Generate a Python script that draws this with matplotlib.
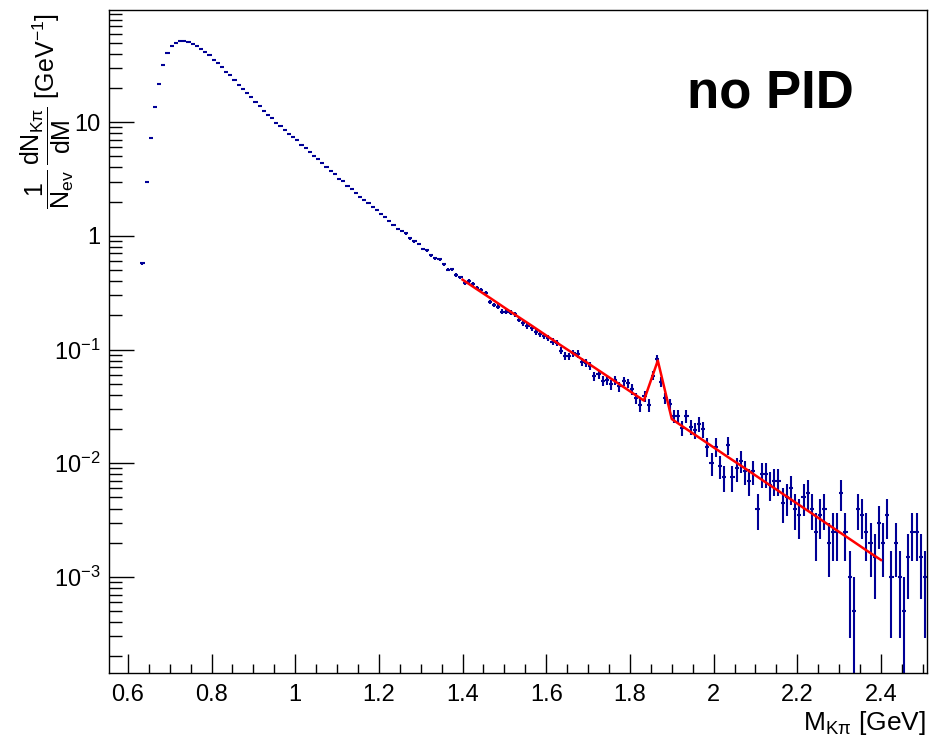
import numpy as np
import matplotlib
matplotlib.use("Agg")
import matplotlib.pyplot as plt
from matplotlib import font_manager
from matplotlib.ticker import FixedLocator, FixedFormatter, MultipleLocator, NullFormatter

# K-pi invariant mass, 0.01 GeV bins starting at 0.63 GeV
n_events = 200000
bin_width = 0.01
m_first = 0.635
counts = [
    1150, 5930, 14560, 27260, 43450, 63450, 81400, 93200, 99600, 104400,
    104500, 101600, 97700, 93200, 88800, 83000, 77600, 71100, 66450, 60940,
    55360, 51790, 47400, 42300, 39500, 36230, 33190, 30330, 27670, 25300,
    23180, 21670, 19840, 18560, 17010, 15890, 14860, 13900, 12710, 11880,
    10890, 10170, 9510, 8830, 8150, 7410, 6980, 6340, 6050, 5530,
    5180, 4810, 4440, 4120, 3880, 3620, 3370, 3100, 2960, 2710,
    2470, 2310, 2210, 2100, 1900, 1790, 1690, 1540, 1490, 1350,
    1270, 1240, 1130, 1010, 1020, 908, 867, 772, 804, 752,
    693, 670, 627, 528, 494, 478, 432, 432, 423, 410,
    367, 341, 323, 310, 286, 273, 264, 255, 235, 228,
    195, 176, 174, 186, 183, 157, 152, 144, 117, 122,
    106, 108, 99, 107, 95, 105, 101, 90, 75, 65,
    78, 65, 118, 166, 104, 75, 66, 52, 52, 41,
    52, 42, 39, 44, 40, 28, 20, 28, 19, 15,
    29, 15, 18, 21, 17, 14, 17, 8, 16, 16,
    13, 14, 14, 9, 10, 12, 8, 7, 10, 11,
    8, 5, 7, 8, 4, 5, 5, 11, 5, 2,
    1, 8, 7, 5, 4, 3, 6, 4, 7, 2,
    4, 2, 1, 3, 5, 5, 3, 2,
]

# fit curve (background + D0 peak), sampled like TF1 with 30 steps on [1.4, 2.4]
fit_lo, fit_hi, fit_steps = 1.4, 2.4, 30
fit_vals = [
    0.412, 0.341, 0.283, 0.234, 0.194, 0.161, 0.133, 0.110, 0.0914, 0.0757,
    0.0627, 0.0519, 0.0430, 0.0356, 0.080, 0.0245, 0.0202, 0.0167, 0.0138, 0.0114,
    0.00946, 0.00782, 0.00646, 0.00534, 0.00441, 0.00365, 0.00301, 0.00249, 0.00206, 0.00170,
    0.00141,
]

y_ticks = [1e-3, 1e-2, 1e-1, 1, 10]
y_tick_labels = ['$10^{-3}$', '$10^{-2}$', '$10^{-1}$', '1', '10']

installed = {f.name for f in font_manager.fontManager.ttflist}
narrow = 'Liberation Sans Narrow' if 'Liberation Sans Narrow' in installed else 'Liberation Sans'
plt.rcParams['font.family'] = [narrow, 'DejaVu Sans']
plt.rcParams['mathtext.fontset'] = 'custom'
plt.rcParams['mathtext.rm'] = narrow
plt.rcParams['mathtext.it'] = narrow + ':italic'
plt.rcParams['mathtext.default'] = 'regular'

counts = np.array(counts, dtype=float)
norm = 1.0 / (n_events * bin_width)
mass = m_first + bin_width * np.arange(len(counts))
vals = counts * norm
errs = np.sqrt(counts) * norm
err_lo = np.minimum(errs, vals - 1e-9)

fit_m = np.linspace(fit_lo, fit_hi, fit_steps + 1)

fig = plt.figure(figsize=(9.37, 7.46), dpi=100)
ax = fig.add_axes([109 / 937, 1 - 673 / 746, (927 - 109) / 937, (673 - 10) / 746])

ax.errorbar(mass, vals, yerr=[err_lo, errs], xerr=bin_width / 2, fmt='none',
            ecolor='#000096', elinewidth=1.5, capsize=0)
ax.plot(fit_m, fit_vals, color='#ff0000', lw=1.8)

ax.set_yscale('log')
ax.set_xlim(0.555, 2.51)
ax.set_ylim(1.43e-4, 97)

ax.xaxis.set_minor_locator(MultipleLocator(0.05))
ax.set_xticks([0.6, 0.8, 1.0, 1.2, 1.4, 1.6, 1.8, 2.0, 2.2, 2.4])
ax.set_xticklabels(['0.6', '0.8', '1', '1.2', '1.4', '1.6', '1.8', '2', '2.2', '2.4'])
ax.yaxis.set_major_locator(FixedLocator(y_ticks))
ax.yaxis.set_major_formatter(FixedFormatter(y_tick_labels))
minor = [k * 10.0 ** e for e in range(-4, 2) for k in range(2, 10)]
ax.yaxis.set_minor_locator(FixedLocator(minor))
ax.yaxis.set_minor_formatter(NullFormatter())

ax.tick_params(which='both', direction='in', top=False, right=False, labelsize=17, width=1)
ax.tick_params(axis='x', which='major', length=13.5, pad=8)
ax.tick_params(axis='x', which='minor', length=6.8)
ax.tick_params(axis='y', which='major', length=18, pad=6)
ax.tick_params(axis='y', which='minor', length=9)
for s in ax.spines.values():
    s.set_linewidth(1.0)

fig.text(47 / 937, 1 - 13 / 746,
         r'$\dfrac{1}{N_{ev}}\,\dfrac{dN_{K\pi}}{dM}$ [GeV$^{-1}$]',
         rotation=90, ha='center', va='top', fontsize=18)
fig.text(926 / 937, 1 - 723 / 746, r'M$_{K\pi}$ [GeV]', ha='right', va='center', fontsize=19)
fig.text(687 / 937, 1 - 107 / 746, 'no PID', ha='left', va='baseline',
         fontsize=38, fontweight='bold', family=['Liberation Sans', 'DejaVu Sans'])

fig.savefig('out.png', dpi=100)
